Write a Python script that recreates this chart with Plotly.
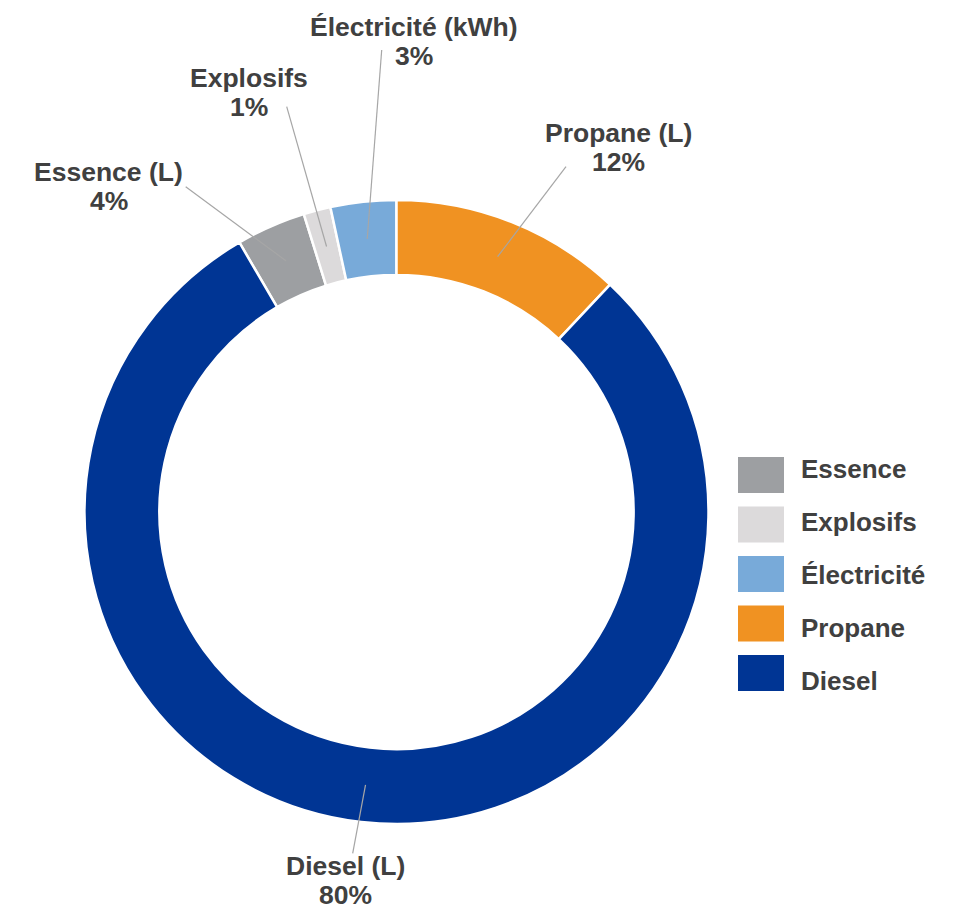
import math
import plotly.graph_objects as go

# ---------------- data ----------------
categories = ["Essence", "Explosifs", "Électricité", "Propane", "Diesel"]
slice_labels = ["Essence (L)", "Explosifs", "Électricité (kWh)", "Propane (L)", "Diesel (L)"]
values = [3.6, 1.4, 3.4, 12.0, 79.6]
colors = ["#9d9fa2", "#dcdadb", "#78aad9", "#f09222", "#003594"]

# ---------------- layout constants (page pixels) ----------------
W, H = 953, 907          # browser window
OFF = 8                  # default body margin of the html page
FW, FH = W - OFF, H - OFF
CX, CY, R = 396.5, 512.0, 312.0
HOLE = 0.76
TEXT_COLOR = "#404040"
FONT = "Liberation Sans"
LABEL_SIZE = 26.5
LEGEND_SIZE = 26
LINE_GAP = 29

# label block centres and leader-line start points (annotation placement)
label_xy = [(108.5, 187), (249, 92.5), (414, 41.5), (618, 148), (345, 880.5)]
leader_xy = [(185.7, 186.7), (286.7, 106.7), (381.7, 50), (566, 166.7), (352.7, 853.3)]

# legend placement
LEG_X0, LEG_Y0, LEG_STEP, SW_W, SW_H = 738, 457, 49.5, 46, 36
LEG_TX, LEG_TY0, LEG_TSTEP = 799, 469, 53.1


def px(x):
    return (x - OFF) / FW


def py(y):
    return 1 - (y - OFF) / FH


total = sum(values)
# Propane starts at 12 o'clock; everything before it sits to its left
rotation = -360.0 * sum(values[:categories.index("Propane")]) / total

fig = go.Figure(
    go.Pie(
        labels=categories,
        values=values,
        hole=HOLE,
        sort=False,
        direction="clockwise",
        rotation=rotation,
        marker=dict(colors=colors, line=dict(color="white", width=2.5)),
        textinfo="none",
        hoverinfo="skip",
        showlegend=False,
        domain=dict(x=[px(CX - R), px(CX + R)], y=[py(CY + R), py(CY - R)]),
    )
)

shapes = []
annotations = []
r_mid = R * (1 + HOLE) / 2
cum = 0.0
for i, (lab, v) in enumerate(zip(slice_labels, values)):
    mid = math.radians(rotation + 360.0 * (cum + v / 2) / total)
    cum += v
    hx = CX + r_mid * math.sin(mid)
    hy = CY - r_mid * math.cos(mid)
    tx, ty = leader_xy[i]
    shapes.append(dict(type="line", xref="paper", yref="paper",
                       x0=px(hx), y0=py(hy), x1=px(tx), y1=py(ty),
                       line=dict(color="#a6a6a6", width=1.2)))
    lx, ly = label_xy[i]
    pct = round(v / total * 100)
    for j, txt in enumerate([lab, f"{pct}%"]):
        annotations.append(dict(
            x=px(lx), y=py(ly + (j - 0.5) * LINE_GAP), xref="paper", yref="paper",
            text=f"<b>{txt}</b>", showarrow=False, xanchor="center", yanchor="middle",
            font=dict(family=FONT, size=LABEL_SIZE, color=TEXT_COLOR)))

for i, cat in enumerate(categories):
    top = LEG_Y0 + i * LEG_STEP
    shapes.append(dict(type="rect", xref="paper", yref="paper",
                       x0=px(LEG_X0), x1=px(LEG_X0 + SW_W), y0=py(top), y1=py(top + SW_H),
                       fillcolor=colors[i], line=dict(width=0)))
    annotations.append(dict(
        x=px(LEG_TX), y=py(LEG_TY0 + i * LEG_TSTEP), xref="paper", yref="paper",
        text=f"<b>{cat}</b>", showarrow=False, xanchor="left", yanchor="middle",
        font=dict(family=FONT, size=LEGEND_SIZE, color=TEXT_COLOR)))

fig.update_layout(
    width=FW, height=FH,
    margin=dict(l=0, r=0, t=0, b=0),
    paper_bgcolor="white", plot_bgcolor="white",
    shapes=shapes, annotations=annotations,
    font=dict(family=FONT, color=TEXT_COLOR),
)

fig.write_html("out.html")
